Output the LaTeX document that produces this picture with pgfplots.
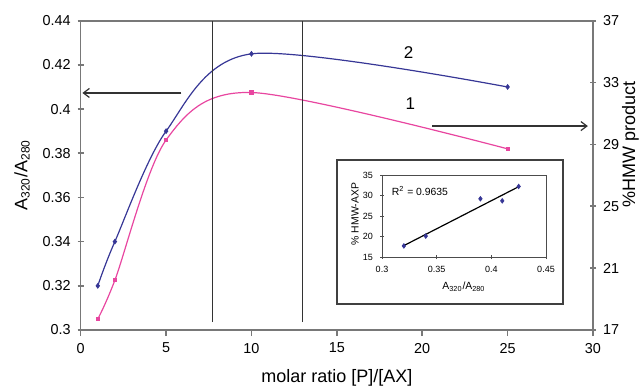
\documentclass[border=0pt]{standalone}
\usepackage{fontspec}
\setmainfont{Liberation Sans}
\usepackage{pgfplots}
\usepackage{pgfplotstable}
\pgfplotsset{compat=1.18}
\usetikzlibrary{arrows.meta}
\definecolor{ser2}{RGB}{55,55,150}
\definecolor{ser1}{RGB}{232,70,160}
\definecolor{axgray}{RGB}{120,120,120}

\pgfplotstableread{
x y
1 0.320
2 0.340
5 0.390
10 0.425
25 0.410
}\seriestwo
\pgfplotstableread{
x y
1 0.305
2 0.3225
5 0.386
10 0.4075
25 0.382
}\seriesone
\pgfplotstableread{
x y
0.32 17.7
0.34 20.1
0.39 29.2
0.41 28.7
0.425 32.2
}\insetdata

\begin{document}
\begin{tikzpicture}
\path[use as bounding box] (-40.35pt,-28.5pt) rectangle (280.65pt,165pt);
\begin{axis}[
 scale only axis, width=256.15pt, height=154.65pt,
 xmin=0, xmax=30, ymin=0.3, ymax=0.44,
 xtick={0,5,10,15,20,25,30},
 ytick={0.3,0.32,0.34,0.36,0.38,0.4,0.42,0.44},
 yticklabel style={/pgf/number format/fixed, /pgf/number format/precision=2},
 /pgf/number format/assume math mode=true,
 tick pos=left, xtick align=outside, ytick align=center,
 major tick length=3pt,
 axis line style={axgray, line width=0.8pt},
 tick style={axgray, line width=0.8pt},
 tick label style={font=\fontsize{7.2}{9}\selectfont},
 label style={font=\fontsize{9}{11}\selectfont},
 xlabel={molar ratio [P]/[AX]},
 ylabel={A\textsubscript{320}/A\textsubscript{280}},
 xlabel style={at={(axis description cs:0.5,-0.155)}, anchor=center},
 ylabel style={at={(axis description cs:-0.1146,0.501)}, anchor=center},
]
\addplot[ser2, line width=0.6pt, smooth, mark=diamond*, mark size=1.0pt] table {\seriestwo};
\addplot[ser1, line width=0.6pt, smooth, mark=square*, mark size=0.75pt] table {\seriesone};
\addplot[black!80, line width=0.6pt] coordinates {(7.7,0.3036) (7.7,0.44)};
\addplot[black!80, line width=0.6pt] coordinates {(13,0.3036) (13,0.44)};
\addplot[black!80, line width=0.6pt, -{Straight Barb[length=3pt,width=4.5pt]}] coordinates {(5.9,0.4073) (0.1,0.4073)};
\addplot[black!80, line width=0.6pt, -{Straight Barb[length=3pt,width=4.5pt]}] coordinates {(20.6,0.3923) (29.7,0.3923)};
\node[font=\fontsize{8.5}{10}\selectfont] at (axis cs:19.2,0.4258) {2};
\node[font=\fontsize{8.5}{10}\selectfont] at (axis cs:19.3,0.4024) {1};
\end{axis}
\begin{axis}[
 scale only axis, width=256.15pt, height=154.65pt,
 xmin=0, xmax=30, ymin=17, ymax=37,
 axis x line=none, axis y line*=right,
 ytick={17,21,25,29,33,37},
 /pgf/number format/assume math mode=true,
 ytick align=center, major tick length=3pt,
 axis line style={axgray, line width=0.8pt},
 tick style={axgray, line width=0.8pt},
 tick label style={font=\fontsize{7.2}{9}\selectfont},
 label style={font=\fontsize{9}{11}\selectfont},
 ylabel={\%HMW product},
 ylabel style={at={(axis description cs:1.073,0.601)}, anchor=center, rotate=0},
]
\addplot[draw=none] coordinates {(0,17)};
\end{axis}
\draw[fill=white, draw=black!75, line width=1pt] (128.15pt,13pt) rectangle (241.15pt,85pt);
\begin{axis}[
 at={(150.65pt,36.5pt)}, anchor=south west,
 scale only axis, width=82pt, height=41pt,
 xmin=0.3, xmax=0.45, ymin=15, ymax=35,
 xtick={0.3,0.35,0.4,0.45}, ytick={15,20,25,30,35},
 xticklabel style={/pgf/number format/fixed, /pgf/number format/precision=2},
 /pgf/number format/assume math mode=true,
 tick pos=left, tick align=center, major tick length=2pt,
 axis line style={black!70, line width=0.5pt},
 tick style={black!70, line width=0.5pt},
 tick label style={font=\fontsize{4.5}{5.5}\selectfont},
 label style={font=\fontsize{5.2}{6.2}\selectfont},
 xlabel={A\textsubscript{320}/A\textsubscript{280}},
 ylabel={\% HMW-AXP},
 xlabel style={at={(axis description cs:0.5,-0.366)}, anchor=center},
 ylabel style={at={(axis description cs:-0.165,0.524)}, anchor=center},
]
\addplot[black, line width=0.6pt] coordinates {(0.32,17.78) (0.425,32.15)};
\addplot[only marks, ser2, mark=diamond*, mark size=1.1pt] table {\insetdata};
\node[anchor=west, font=\fontsize{5.2}{6.2}\selectfont] at (axis cs:0.3025,31.2) {R\textsuperscript{2} = 0.9635};
\end{axis}
\end{tikzpicture}
\end{document}
